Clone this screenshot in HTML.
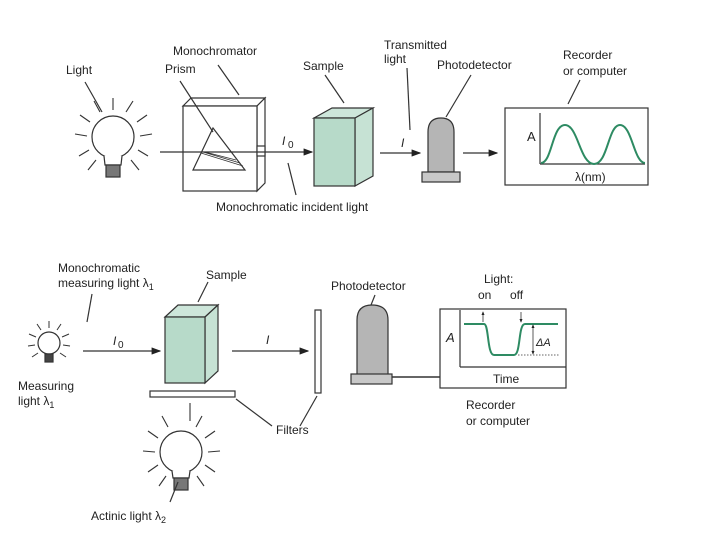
<!DOCTYPE html>
<html><head><style>
html,body{margin:0;padding:0;background:#fff;}
svg{display:block;}
text{font-family:"Liberation Sans",sans-serif;font-size:12px;fill:#222;}
</style></head><body>
<svg width="720" height="540" viewBox="0 0 720 540" xmlns="http://www.w3.org/2000/svg">
<defs>
<marker id="ar" markerWidth="8" markerHeight="6" refX="7" refY="3" orient="auto"><path d="M0,0 L8,3 L0,6 z" fill="#222"/></marker>
<marker id="sa" markerWidth="5" markerHeight="4" refX="4" refY="2" orient="auto"><path d="M0,0 L5,2 L0,4 z" fill="#222"/></marker>
</defs>
<g stroke="#333" fill="none" stroke-width="1.2">
<!-- TOP bulb -->
<circle cx="113" cy="137" r="21" fill="#fff"/>
<path d="M104,156 L105,165 L121,165 L122,156" fill="#fff"/>
<rect x="106" y="165" width="14" height="12" fill="#777"/>
<g stroke-width="1.1">
<line x1="113" y1="110" x2="113" y2="98"/><line x1="100" y1="112" x2="94" y2="101"/><line x1="126" y1="112" x2="133" y2="101"/>
<line x1="90" y1="122" x2="80" y2="115"/><line x1="137" y1="122" x2="147" y2="115"/>
<line x1="87" y1="136" x2="75" y2="134"/><line x1="140" y1="136" x2="152" y2="134"/>
<line x1="89" y1="150" x2="79" y2="156"/><line x1="138" y1="150" x2="148" y2="156"/>
<line x1="96" y1="160" x2="88" y2="170"/><line x1="131" y1="160" x2="139" y2="170"/>
</g>
<!-- monochromator -->
<path d="M183,106 L191,98 L265,98 L257,106 Z" fill="#fff"/>
<path d="M257,106 L265,98 L265,183 L257,191 Z" fill="#fff"/>
<rect x="183" y="106" width="74" height="85" fill="#fff"/>
<path d="M213,128 L245,170 L193,170 Z" fill="#fff"/>
<path d="M201,153 L243,166 M203,152 L240,163 M205,152 L236,160" stroke-width="0.8"/>
<rect x="257" y="146" width="8" height="10" fill="#fff"/>
<line x1="160" y1="152" x2="312" y2="152" marker-end="url(#ar)"/>
<!-- top sample -->
<path d="M314,118 L332,108 L373,108 L355,118 Z" fill="#cde6da"/>
<path d="M355,118 L373,108 L373,176 L355,186 Z" fill="#c6e2d4"/>
<rect x="314" y="118" width="41" height="68" fill="#b7dac9"/>
<line x1="380" y1="153" x2="420" y2="153" marker-end="url(#ar)"/>
<!-- photodetector top -->
<path d="M428,172 L428,132 Q428,118 441,118 Q454,118 454,132 L454,172 Z" fill="#b5b5b5"/>
<rect x="422" y="172" width="38" height="10" fill="#c8c8c8"/>
<line x1="463" y1="153" x2="497" y2="153" marker-end="url(#ar)"/>
<!-- recorder top -->
<rect x="505" y="108" width="143" height="77" fill="#fff"/>
<line x1="540" y1="113" x2="540" y2="164"/><line x1="540" y1="164" x2="645" y2="164"/>
<path d="M541,163 C552,163 552,125 565,125 C578,125 580,164 594,164 C608,164 608,125 620,125 C632,125 634,163 645,163" stroke="#2e8b63" stroke-width="2"/>
<!-- leader lines top -->
<line x1="85" y1="82" x2="102" y2="112"/>
<line x1="218" y1="65" x2="239" y2="95"/>
<line x1="180" y1="81" x2="213" y2="132"/>
<line x1="325" y1="75" x2="344" y2="103"/>
<line x1="407" y1="68" x2="410" y2="130"/>
<line x1="471" y1="75" x2="446" y2="117"/>
<line x1="580" y1="80" x2="568" y2="104"/>
<line x1="288" y1="163" x2="296" y2="195"/>
<!-- BOTTOM measuring bulb -->
<circle cx="49" cy="343" r="11" fill="#fff"/>
<rect x="45" y="354" width="8" height="8" fill="#444"/>
<g stroke-width="1">
<line x1="49" y1="328" x2="49" y2="321"/><line x1="41" y1="330" x2="37" y2="324"/><line x1="57" y1="330" x2="61" y2="324"/>
<line x1="36" y1="337" x2="29" y2="334"/><line x1="62" y1="337" x2="69" y2="334"/>
<line x1="35" y1="345" x2="28" y2="346"/><line x1="63" y1="345" x2="70" y2="346"/>
<line x1="38" y1="353" x2="32" y2="357"/><line x1="60" y1="353" x2="66" y2="357"/>
</g>
<line x1="83" y1="351" x2="160" y2="351" marker-end="url(#ar)"/>
<!-- bottom sample -->
<path d="M165,317 L178,305 L218,305 L205,317 Z" fill="#cde6da"/>
<path d="M205,317 L218,305 L218,371 L205,383 Z" fill="#c6e2d4"/>
<rect x="165" y="317" width="40" height="66" fill="#b7dac9"/>
<line x1="232" y1="351" x2="308" y2="351" marker-end="url(#ar)"/>
<rect x="315" y="310" width="6" height="83" fill="#fff"/>
<rect x="150" y="391" width="85" height="6" fill="#fff"/>
<!-- actinic bulb -->
<circle cx="181" cy="452" r="21" fill="#fff"/>
<path d="M172,471 L173,478 L189,478 L190,471" fill="#fff"/>
<rect x="174" y="478" width="14" height="12" fill="#777"/>
<g stroke-width="1.1">
<line x1="190" y1="403" x2="190" y2="421"/>
<line x1="168" y1="427" x2="162" y2="416"/><line x1="196" y1="427" x2="202" y2="416"/>
<line x1="158" y1="438" x2="148" y2="431"/><line x1="205" y1="438" x2="215" y2="431"/>
<line x1="155" y1="452" x2="143" y2="451"/><line x1="208" y1="452" x2="220" y2="451"/>
<line x1="158" y1="465" x2="148" y2="472"/><line x1="205" y1="465" x2="215" y2="472"/>
<line x1="166" y1="476" x2="159" y2="486"/><line x1="197" y1="476" x2="204" y2="486"/>
</g>
<!-- bottom photodetector -->
<path d="M357,375 L357,320 Q357,305 372,305 Q388,305 388,320 L388,375 Z" fill="#b5b5b5"/>
<rect x="351" y="374" width="41" height="10" fill="#c8c8c8"/>
<line x1="392" y1="377" x2="440" y2="377" stroke-width="1.5"/>
<!-- recorder bottom -->
<rect x="440" y="309" width="126" height="79" fill="#fff"/>
<line x1="460" y1="310" x2="460" y2="367"/><line x1="460" y1="367" x2="566" y2="367"/>
<path d="M464,324 L484,324 C489,324 487,355 494,355 L514,355 C521,355 518,324 525,324 L558,324" stroke="#2e8b63" stroke-width="2"/>
<line x1="483" y1="322" x2="483" y2="312" marker-end="url(#sa)" stroke-width="0.8"/>
<line x1="521" y1="312" x2="521" y2="322" marker-end="url(#sa)" stroke-width="0.8"/>
<line x1="533" y1="328" x2="533" y2="325" marker-end="url(#sa)" stroke-width="0.8"/>
<line x1="533" y1="328" x2="533" y2="352" stroke-width="0.8"/>
<line x1="533" y1="350" x2="533" y2="354" marker-end="url(#sa)" stroke-width="0.8"/>
<line x1="518" y1="355" x2="560" y2="355" stroke-dasharray="1.5,1.5" stroke-width="0.8"/>
<!-- leader lines bottom -->
<line x1="92" y1="294" x2="87" y2="322"/>
<line x1="208" y1="282" x2="198" y2="302"/>
<line x1="236" y1="399" x2="272" y2="426"/>
<line x1="317" y1="396" x2="300" y2="426"/>
<line x1="375" y1="295" x2="371" y2="305"/>
<line x1="178" y1="482" x2="170" y2="502"/>
</g>
<!-- TEXT -->
<text x="66" y="74">Light</text>
<text x="173" y="55">Monochromator</text>
<text x="165" y="73">Prism</text>
<text x="303" y="70">Sample</text>
<text x="384" y="49">Transmitted</text>
<text x="384" y="63">light</text>
<text x="437" y="69">Photodetector</text>
<text x="563" y="59">Recorder</text>
<text x="563" y="75">or computer</text>
<text x="282" y="145" font-style="italic">I</text><text x="288" y="148" style="font-size:10px">0</text>
<text x="401" y="147" font-style="italic">I</text>
<text x="527" y="141" style="font-size:13px">A</text>
<text x="575" y="181">λ(nm)</text>
<text x="216" y="211">Monochromatic incident light</text>
<text x="58" y="272">Monochromatic</text>
<text x="58" y="287">measuring light λ<tspan style="font-size:9px" dy="3">1</tspan></text>
<text x="206" y="279">Sample</text>
<text x="331" y="290">Photodetector</text>
<text x="484" y="283">Light:</text>
<text x="478" y="299">on</text><text x="510" y="299">off</text>
<text x="113" y="345" font-style="italic">I</text><text x="118" y="348" style="font-size:10px">0</text>
<text x="266" y="344" font-style="italic">I</text>
<text x="18" y="390">Measuring</text>
<text x="18" y="405">light λ<tspan style="font-size:9px" dy="3">1</tspan></text>
<text x="276" y="434">Filters</text>
<text x="446" y="342" font-style="italic" style="font-size:13px">A</text>
<text x="536" y="346" font-style="italic" style="font-size:11px">ΔA</text>
<text x="493" y="383">Time</text>
<text x="466" y="409">Recorder</text>
<text x="466" y="425">or computer</text>
<text x="91" y="520">Actinic light λ<tspan style="font-size:9px" dy="3">2</tspan></text>
</svg>
</body></html>
